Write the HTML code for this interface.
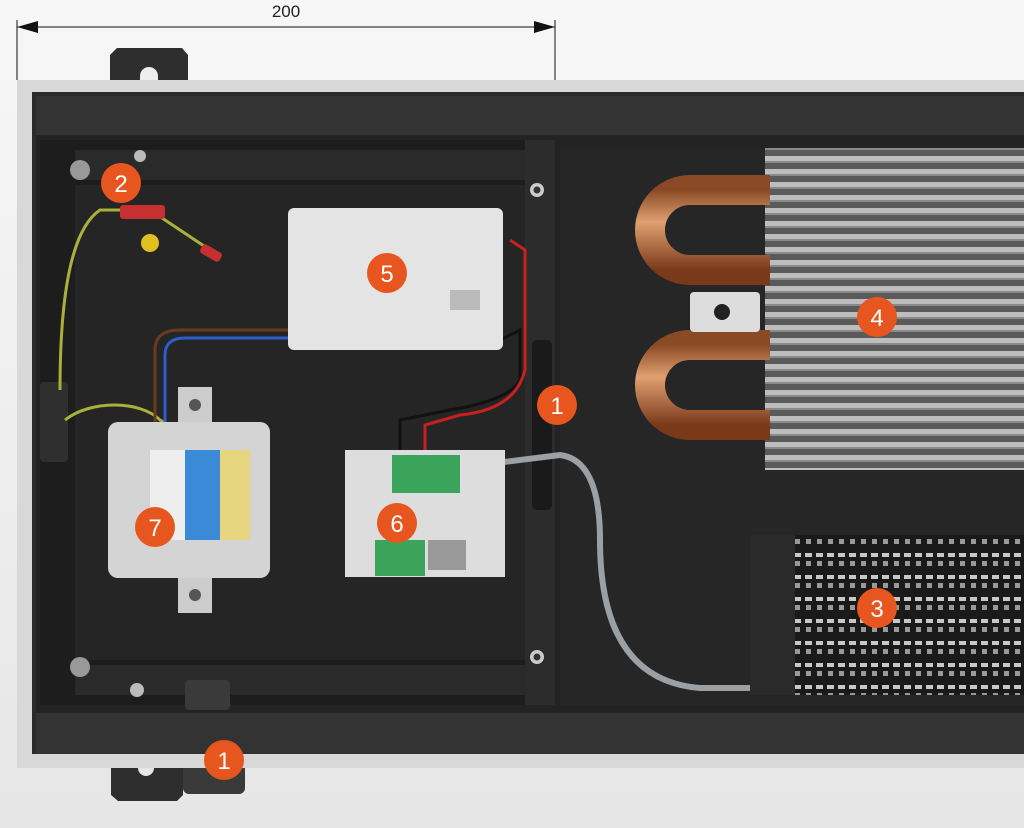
<!DOCTYPE html>
<html><head><meta charset="utf-8"><style>
html,body{margin:0;padding:0;background:#f2f2f2;}
svg{display:block}
</style></head><body>
<svg width="1024" height="828" viewBox="0 0 1024 828" xmlns="http://www.w3.org/2000/svg">
<defs>
<linearGradient id="bg" x1="0" y1="0" x2="0" y2="1"><stop offset="0" stop-color="#f7f7f7"/><stop offset="1" stop-color="#e6e6e6"/></linearGradient>
<linearGradient id="cu" x1="0" y1="0" x2="0" y2="1"><stop offset="0" stop-color="#8a4a25"/><stop offset="0.4" stop-color="#e0a070"/><stop offset="1" stop-color="#7a3a1a"/></linearGradient>
<pattern id="fins" width="6" height="13" patternUnits="userSpaceOnUse"><rect width="6" height="13" fill="#5a5a5a"/><rect y="0" width="6" height="5" fill="#bdbdbd"/><rect y="5" width="6" height="2" fill="#8a8a8a"/></pattern>
<pattern id="grill" width="11" height="22" patternUnits="userSpaceOnUse"><rect width="11" height="22" fill="#1a1a1a"/><rect x="2" y="3" width="7" height="4" fill="#c8c8c8"/><rect x="3" y="11" width="5" height="5" fill="#999"/></pattern>
</defs>
<rect width="1024" height="828" fill="url(#bg)"/>
<line x1="17" y1="27" x2="555" y2="27" stroke="#111" stroke-width="1"/>
<line x1="17" y1="20" x2="17" y2="80" stroke="#111"/>
<line x1="555" y1="20" x2="555" y2="145" stroke="#111"/>
<polygon points="17,27 38,21 38,33" fill="#111"/>
<polygon points="555,27 534,21 534,33" fill="#111"/>
<text x="286" y="17" font-family="Liberation Sans, sans-serif" font-size="17" text-anchor="middle" fill="#222">200</text>
<!-- brackets -->
<path d="M117,48 H182 L188,55 V82 H110 V55 Z" fill="#2e2e2e"/>
<path d="M140,82 V76 A9,9 0 0 1 158,76 V82 Z" fill="#eee"/>
<path d="M111,760 H183 V795 L177,801 H118 L111,795 Z" fill="#2e2e2e"/>
<path d="M138,760 V768 A8,8 0 0 0 154,768 V760 Z" fill="#e6e6e6"/>
<rect x="183" y="760" width="62" height="34" rx="6" fill="#3a3a3a"/>
<!-- frame -->
<rect x="17" y="80" width="1007" height="688" fill="#d8d8d8"/>
<rect x="32" y="92" width="992" height="662" fill="#2b2b2b"/>
<rect x="36" y="96" width="988" height="40" fill="#333"/>
<rect x="36" y="135" width="988" height="578" fill="#232323"/>
<rect x="36" y="713" width="988" height="41" fill="#333"/>
<rect x="40" y="140" width="490" height="565" fill="#1d1d1d"/>
<rect x="75" y="150" width="450" height="30" fill="#2a2a2a"/>
<rect x="75" y="185" width="450" height="475" fill="#252525"/>
<rect x="75" y="665" width="450" height="30" fill="#2a2a2a"/>
<rect x="40" y="382" width="28" height="80" rx="4" fill="#2f2f2f"/>
<circle cx="80" cy="170" r="10" fill="#999"/>
<circle cx="80" cy="667" r="10" fill="#999"/>
<circle cx="140" cy="156" r="6" fill="#bbb"/>
<circle cx="137" cy="690" r="7" fill="#bbb"/>
<rect x="185" y="680" width="45" height="30" rx="4" fill="#3a3a3a"/>
<rect x="525" y="140" width="30" height="565" fill="#2c2c2c"/>
<circle cx="537" cy="190" r="7" fill="#ccc"/><circle cx="537" cy="190" r="3.5" fill="#333"/>
<circle cx="537" cy="657" r="7" fill="#ccc"/><circle cx="537" cy="657" r="3.5" fill="#333"/>
<rect x="532" y="340" width="20" height="170" rx="5" fill="#1a1a1a"/>
<rect x="560" y="150" width="464" height="555" fill="#262626"/>
<rect x="765" y="148" width="259" height="322" fill="url(#fins)"/>
<path d="M770,190 H690 A40,40 0 0 0 690,270 H770" fill="none" stroke="url(#cu)" stroke-width="30"/>
<path d="M770,345 H690 A40,40 0 0 0 690,425 H770" fill="none" stroke="url(#cu)" stroke-width="30"/>
<rect x="690" y="292" width="70" height="40" rx="4" fill="#ddd"/>
<circle cx="722" cy="312" r="8" fill="#222"/>
<rect x="750" y="535" width="274" height="160" fill="url(#grill)"/>
<rect x="750" y="535" width="45" height="160" fill="#2a2a2a"/>
<path d="M60,390 C60,300 70,230 100,210 L150,210 L210,250" fill="none" stroke="#a8b23a" stroke-width="3"/>
<path d="M65,420 C90,400 140,400 160,420 L230,460" fill="none" stroke="#a8b23a" stroke-width="3"/>
<path d="M155,455 V350 Q155,330 180,330 H290" fill="none" stroke="#6a3a20" stroke-width="3"/>
<path d="M165,455 V355 Q165,338 185,338 H290" fill="none" stroke="#2d5ccc" stroke-width="3"/>
<path d="M500,340 L520,330 L520,380 Q510,400 450,410 L400,420 V460" fill="none" stroke="#111" stroke-width="3"/>
<path d="M510,240 L525,250 V370 Q515,410 460,415 L425,425 V460" fill="none" stroke="#c72020" stroke-width="3"/>
<path d="M440,535 V500 Q440,470 480,465 L560,455 Q600,460 600,540 Q600,680 700,688 L750,688" fill="none" stroke="#9aa0a4" stroke-width="6"/>
<rect x="288" y="208" width="215" height="142" rx="6" fill="#e4e4e4"/>
<rect x="450" y="290" width="30" height="20" fill="#bbb"/>
<rect x="178" y="387" width="34" height="40" fill="#ccc"/>
<rect x="178" y="575" width="34" height="38" fill="#ccc"/>
<circle cx="195" cy="405" r="6" fill="#555"/><circle cx="195" cy="595" r="6" fill="#555"/>
<rect x="108" y="422" width="162" height="156" rx="10" fill="#d4d4d4"/>
<rect x="150" y="450" width="35" height="90" fill="#eee"/>
<rect x="185" y="450" width="35" height="90" fill="#3a8ad8"/>
<rect x="220" y="450" width="30" height="90" fill="#e6d680"/>
<rect x="345" y="450" width="160" height="127" fill="#ddd"/>
<rect x="392" y="455" width="68" height="38" fill="#3aa55a"/>
<rect x="375" y="540" width="50" height="36" fill="#3aa55a"/>
<rect x="428" y="540" width="38" height="30" fill="#999"/>
<rect x="120" y="205" width="45" height="14" rx="3" fill="#c73030"/>
<circle cx="150" cy="243" r="9" fill="#e0c020"/>
<rect x="200" y="248" width="22" height="10" rx="3" fill="#c73030" transform="rotate(30 211 253)"/>
<g font-family="Liberation Sans, sans-serif" font-size="24" fill="#fff" text-anchor="middle">
<circle cx="121" cy="183" r="20" fill="#e8561f"/><text x="121" y="192">2</text>
<circle cx="387" cy="273" r="20" fill="#e8561f"/><text x="387" y="282">5</text>
<circle cx="877" cy="317" r="20" fill="#e8561f"/><text x="877" y="326">4</text>
<circle cx="557" cy="405" r="20" fill="#e8561f"/><text x="557" y="414">1</text>
<circle cx="155" cy="527" r="20" fill="#e8561f"/><text x="155" y="536">7</text>
<circle cx="397" cy="523" r="20" fill="#e8561f"/><text x="397" y="532">6</text>
<circle cx="877" cy="608" r="20" fill="#e8561f"/><text x="877" y="617">3</text>
<circle cx="224" cy="760" r="20" fill="#e8561f"/><text x="224" y="769">1</text>
</g>
</svg>
</body></html>
